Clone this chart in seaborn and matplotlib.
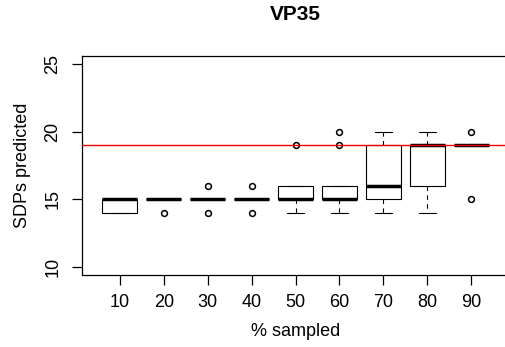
import numpy as np
import pandas as pd
import matplotlib
matplotlib.use("Agg")
import matplotlib.pyplot as plt
import seaborn as sns

# Data (SDPs predicted per % sampled)
categories = ["10", "20", "30", "40", "50", "60", "70", "80", "90"]
g10 = [14, 14, 14, 15, 15, 15, 15, 15, 15]
g20 = [14, 15, 15, 15, 15, 15, 15, 15, 15]
g30 = [14, 15, 15, 15, 15, 15, 15, 15, 16]
g40 = [14, 15, 15, 15, 15, 15, 15, 15, 16]
g50 = [14, 15, 15, 15, 15, 16, 16, 16, 19]
g60 = [14, 15, 15, 15, 15, 16, 16, 19, 20]
g70 = [14, 15, 15, 16, 16, 19, 19, 20, 20]
g80 = [14, 16, 16, 19, 19, 19, 19, 20, 20]
g90 = [15, 19, 19, 19, 19, 19, 19, 19, 20]
groups = [g10, g20, g30, g40, g50, g60, g70, g80, g90]
reference_value = 19
yticks = [10, 15, 20, 25]

rows = []
for cat, vals in zip(categories, groups):
    for v in vals:
        rows.append({"pct": cat, "sdp": v})
df = pd.DataFrame(rows)

sns.set_style("white")
plt.rcParams["font.family"] = ["Liberation Sans", "DejaVu Sans"]
for k in ["text.color", "axes.labelcolor", "xtick.color", "ytick.color", "axes.edgecolor"]:
    plt.rcParams[k] = "black"

W, H = 506, 347
fig = plt.figure(figsize=(W / 100, H / 100), dpi=100)
ax_l, ax_r, ax_t, ax_b = 82, 509, 56, 275
ax = fig.add_axes([ax_l / W, (H - ax_b) / H, (ax_r - ax_l) / W, (ax_b - ax_t) / H])

lw = 0.8
sns.boxplot(
    data=df, x="pct", y="sdp", order=categories, ax=ax,
    color="white", linecolor="black", linewidth=lw, width=0.8, whis=1.5,
    medianprops={"linewidth": 2.5, "solid_capstyle": "butt", "color": "black"},
    whiskerprops={"linestyle": (0, (4, 4)), "linewidth": lw},
    capprops={"linewidth": lw},
    boxprops={"linewidth": lw},
    flierprops={"marker": "o", "markerfacecolor": "none", "markeredgecolor": "black",
                "markersize": 4.2, "markeredgewidth": 1.1},
)

ax.axhline(reference_value, color="#ee0000", linewidth=1.0, zorder=5)

ax.set_xlim(-0.86, 8.86)
ax.set_ylim(9.4, 25.6)
ax.set_yticks(yticks)
ax.set_yticklabels([str(t) for t in yticks])

for s in ax.spines.values():
    s.set_visible(True)
    s.set_color("black")
    s.set_linewidth(0.9)

fs = 13
ax.tick_params(axis="both", direction="out", length=7, width=0.9, color="black",
               labelcolor="black", labelsize=fs, left=True, bottom=True)
ax.tick_params(axis="x", pad=7)
ax.tick_params(axis="y", pad=8, labelrotation=90)
for lab in ax.get_yticklabels():
    lab.set_va("center")

ax.set_xlabel("% sampled", fontsize=fs, va="center", color="black")
ax.xaxis.set_label_coords(0.5, (ax_b - 331) / (ax_b - ax_t))
ax.set_ylabel("SDPs predicted", fontsize=fs, va="center", color="black")
ax.yaxis.set_label_coords((22 - ax_l) / (ax_r - ax_l), 0.5)
ax.set_title("VP35", fontsize=15, fontweight="bold", va="center", color="black",
             y=(ax_b - 23) / (ax_b - ax_t))

fig.savefig("out.png", dpi=100)
